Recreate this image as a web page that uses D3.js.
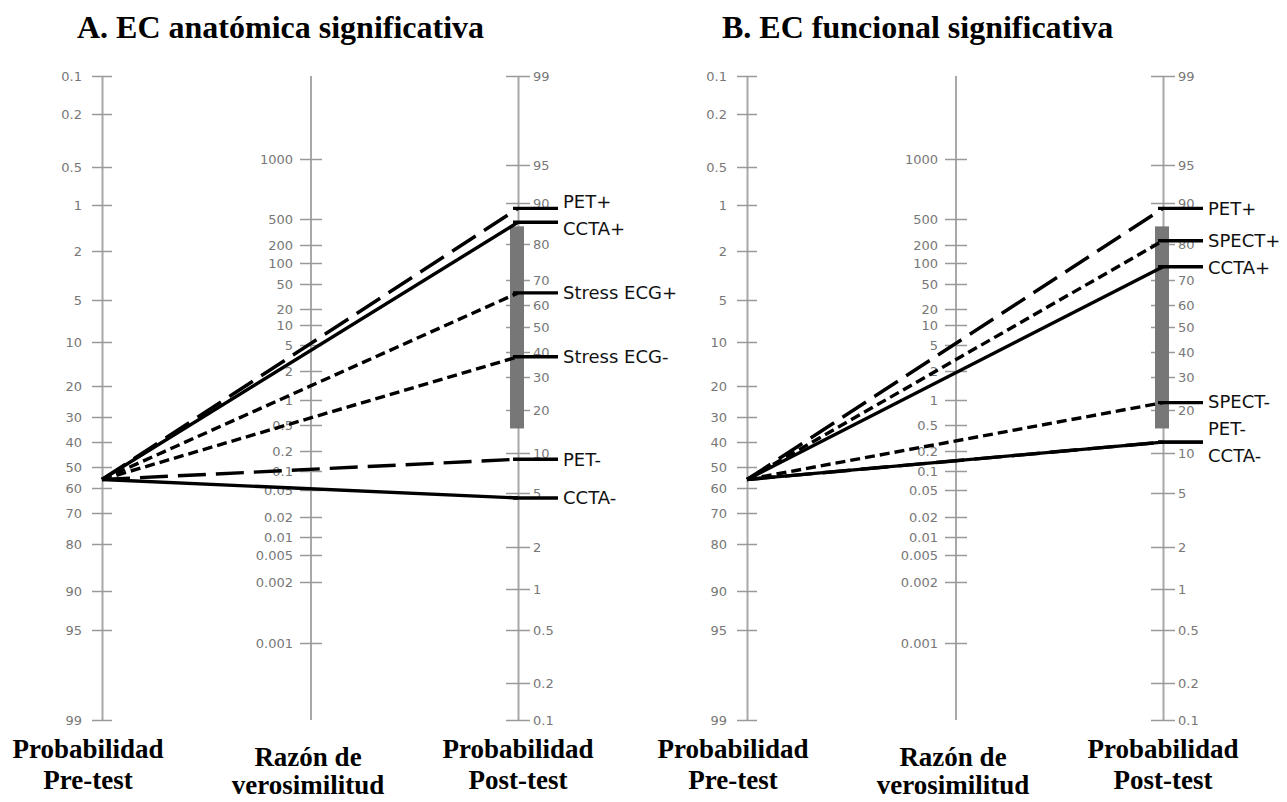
<!DOCTYPE html>
<html>
<head>
<meta charset="utf-8">
<script src="https://cdn.jsdelivr.net/npm/d3@7"></script>
<style>
  body { margin: 0; background: #fff; }
  .tick text { font-family: "DejaVu Sans", sans-serif; font-size: 13px; fill: #777; }
  .tick line { stroke: #999; stroke-width: 1.5; }
  .domain { stroke: #a8a8a8; stroke-width: 2; }
</style>
</head>
<body>
<div id="chart"></div>
<script>
// tick labels of the three scales
const preTicks = [0.1, 0.2, 0.5, 1, 2, 5, 10, 20, 30, 40, 50, 60, 70, 80, 90, 95, 99]
const lrTicks = [1000, 500, 200, 100, 50, 20, 10, 5, 2, 1, 0.5, 0.2, 0.1, 0.05, 0.02, 0.01, 0.005, 0.002, 0.001]
const postTicks = [99, 95, 90, 80, 70, 60, 50, 40, 30, 20, 10, 5, 2, 1, 0.5, 0.2, 0.1]

// pre-test probability (%) common to both panels
const preTest = 56
// grey band on the post-test axis (%)
const band = [15, 85]

// panel A: EC anatomica
const testsA = ['PET+', 'CCTA+', 'Stress ECG+', 'Stress ECG-', 'PET-', 'CCTA-']
const postA = [89, 86, 65, 38, 9, 4.6]
const dashA = ['long', 'solid', 'short', 'short', 'long', 'solid']

// panel B: EC funcional
const testsB = ['PET+', 'SPECT+', 'CCTA+', 'SPECT-', 'PET-', 'CCTA-']
const postB = [89, 81, 74, 22, 12, 12]
const dashB = ['long', 'short', 'solid', 'short', 'long', 'solid']

const w = 1287, h = 802
const yTop = 76, yBottom = 720
const axisX = { pre: 102, lr: 311, post: 518 }
const panelShift = 645

const dashes = { solid: null, long: '28,10', short: '10,5' }

function logit(p) { p = p / 100; return Math.log(p / (1 - p)) }

// the printed nomogram is not evenly spaced, so the scales follow its tick marks
const yPre = d3.scaleLinear()
  .domain(preTicks.map(logit))
  .range([yTop, 114, 167, 205, 251, 300, 342, 386, 417, 442, 467, 488, 513, 544, 591, 630, yBottom])
const yPost = d3.scaleLinear()
  .domain(postTicks.map(logit))
  .range([yTop, 165, 203, 244, 280, 305, 327, 352, 377, 410, 453, 493, 547, 589, 630, 683, yBottom])
const yLR = d3.scaleLinear()
  .domain(lrTicks.map(Math.log10))
  .range([159, 219, 245, 263, 284, 309, 325, 345, 371, 400, 425, 451, 471, 490, 517, 537, 555, 582, 643])

const svg = d3.select('#chart').append('svg')
  .attr('width', w)
  .attr('height', h)
  .style('font-family', '"Liberation Serif", "Times New Roman", serif');

drawPanel(0, 'A. EC anatómica significativa', testsA, postA, dashA)
drawPanel(panelShift, 'B. EC funcional significativa', testsB, postB, dashB)

function drawPanel(dx, title, tests, post, dash) {
  const g = svg.append('g').attr('transform', 'translate(' + dx + ',0)')

  g.append('text')
    .attr('x', 77).attr('y', 38)
    .style('font-size', '32px').style('font-weight', 'bold')
    .text(title)

  // pre-test axis
  const preAxis = g.append('g')
    .attr('transform', 'translate(' + axisX.pre + ',0)')
    .call(d3.axisLeft(yPre)
      .tickValues(preTicks.map(logit))
      .tickFormat((d, i) => preTicks[i])
      .tickSize(10).tickSizeOuter(0).tickPadding(10))
  preAxis.selectAll('.tick line').attr('x2', 10).attr('x1', -10)

  // likelihood ratio axis, its line runs the full height
  g.append('line')
    .attr('class', 'domain')
    .attr('x1', axisX.lr).attr('x2', axisX.lr)
    .attr('y1', yTop).attr('y2', yBottom)
  const lrAxis = g.append('g')
    .attr('transform', 'translate(' + axisX.lr + ',0)')
    .call(d3.axisLeft(yLR)
      .tickValues(lrTicks.map(Math.log10))
      .tickFormat((d, i) => lrTicks[i])
      .tickSize(11).tickSizeOuter(0).tickPadding(7))
  lrAxis.select('.domain').remove()
  lrAxis.selectAll('.tick line').attr('x2', 11).attr('x1', -11)

  // post-test axis
  const postAxis = g.append('g')
    .attr('transform', 'translate(' + axisX.post + ',0)')
    .call(d3.axisRight(yPost)
      .tickValues(postTicks.map(logit))
      .tickFormat((d, i) => postTicks[i])
      .tickSize(12).tickSizeOuter(0).tickPadding(3))
  postAxis.selectAll('.tick line').attr('x1', -12).attr('x2', 12)

  g.append('rect')
    .attr('x', axisX.post - 8)
    .attr('width', 14)
    .attr('y', yPost(logit(band[1])))
    .attr('height', yPost(logit(band[0])) - yPost(logit(band[1])))
    .style('fill', '#777')

  const y0 = yPre(logit(preTest))
  const lines = g.append('g').attr('class', 'lines')

  lines.selectAll('path')
    .data(post)
    .enter()
    .append('path')
    .attr('d', d => d3.line()([[axisX.pre, y0], [axisX.post, yPost(logit(d))]]))
    .style('fill', 'none')
    .style('stroke', '#000')
    .style('stroke-width', 3.4)
    .style('stroke-dasharray', (d, i) => dashes[dash[i]])

  lines.selectAll('line')
    .data(post)
    .enter()
    .append('line')
    .attr('x1', axisX.post - 5)
    .attr('x2', axisX.post + 40)
    .attr('y1', d => yPost(logit(d)))
    .attr('y2', d => yPost(logit(d)))
    .style('stroke', '#000')
    .style('stroke-width', 3.4)

  // spread labels that would overlap
  const ly = spread(post.map(d => yPost(logit(d))), 27)
  g.selectAll('.test-label')
    .data(tests)
    .enter()
    .append('text')
    .attr('class', 'test-label')
    .attr('x', axisX.post + 45)
    .attr('y', (d, i) => ly[i])
    .attr('dy', '0.36em')
    .style('font-family', '"DejaVu Sans", sans-serif')
    .style('font-size', '18px')
    .style('fill', '#111')
    .text(d => d)

  const foot = [
    [axisX.pre - 14, 758, 'Probabilidad'], [axisX.pre - 14, 789, 'Pre-test'],
    [axisX.lr - 3, 766, 'Razón de'], [axisX.lr - 3, 794, 'verosimilitud'],
    [axisX.post, 758, 'Probabilidad'], [axisX.post, 789, 'Post-test']
  ]
  g.selectAll('.foot')
    .data(foot)
    .enter()
    .append('text')
    .attr('class', 'foot')
    .attr('x', d => d[0])
    .attr('y', d => d[1])
    .attr('text-anchor', 'middle')
    .style('font-size', '27px')
    .style('font-weight', 'bold')
    .text(d => d[2])
}

function spread(ys, gap) {
  const out = ys.slice()
  const order = d3.range(ys.length).sort((a, b) => ys[a] - ys[b])
  for (let k = 0; k < 20; k++) {
    for (let j = 1; j < order.length; j++) {
      const a = order[j - 1], b = order[j]
      const d = out[b] - out[a]
      if (d < gap) {
        const push = (gap - d) / 2
        out[a] -= push
        out[b] += push
      }
    }
  }
  return out
}
</script>
</body>
</html>
